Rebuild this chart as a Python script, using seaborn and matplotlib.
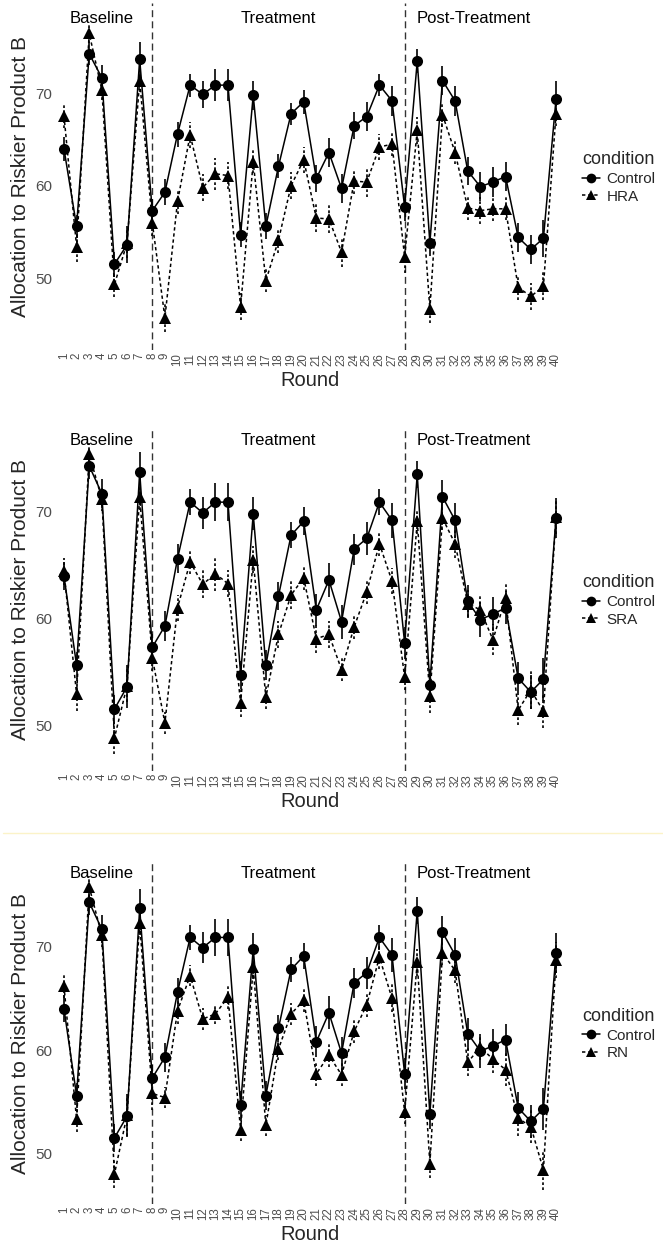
import numpy as np
import pandas as pd
import matplotlib
matplotlib.use("Agg")
import matplotlib.pyplot as plt
from matplotlib.lines import Line2D
import seaborn as sns

# values (means and standard errors per round)
rounds = list(range(1, 41))

control_mean = [64.0, 55.6, 74.3, 71.7, 51.5, 53.6, 73.7, 57.3, 59.3, 65.6,
                70.9, 69.9, 70.9, 70.9, 54.7, 69.8, 55.6, 62.1, 67.8, 69.1,
                60.8, 63.6, 59.7, 66.5, 67.5, 70.9, 69.2, 57.7, 73.5, 53.8,
                71.4, 69.2, 61.6, 59.9, 60.4, 61.0, 54.4, 53.1, 54.3, 69.4]
control_se = [1.3, 1.25, 1.25, 1.35, 1.35, 2.0, 1.9, 1.25, 1.4, 1.35,
              1.25, 1.5, 1.75, 1.75, 1.35, 1.55, 1.4, 1.3, 1.2, 1.3,
              1.5, 1.6, 1.6, 1.45, 1.55, 1.2, 1.65, 1.5, 1.3, 1.45,
              1.6, 1.65, 1.55, 1.6, 1.6, 1.55, 1.55, 1.6, 2.0, 1.9]

hra_mean = [67.6, 53.4, 76.5, 70.4, 49.3, 53.8, 71.4, 56.0, 45.7, 58.3,
            65.5, 59.8, 61.3, 61.1, 46.9, 62.6, 49.7, 54.1, 60.0, 62.8,
            56.5, 56.4, 52.8, 60.5, 60.4, 64.2, 64.5, 52.3, 66.0, 46.6,
            67.7, 63.6, 57.6, 57.3, 57.5, 57.5, 49.0, 48.0, 49.1, 67.8]
hra_se = [1.3, 1.7, 1.0, 1.1, 1.35, 1.6, 1.2, 1.4, 1.6, 1.35,
          1.45, 1.45, 1.75, 1.45, 1.45, 1.25, 1.25, 1.35, 1.45, 1.45,
          1.5, 1.5, 1.6, 1.35, 1.6, 1.45, 1.25, 1.8, 1.45, 1.45,
          1.35, 1.25, 1.35, 1.45, 1.35, 1.25, 1.35, 1.5, 1.5, 1.35]

sra_mean = [64.4, 52.9, 75.4, 71.2, 48.8, 53.7, 71.4, 56.3, 50.2, 61.0,
            65.3, 63.2, 64.2, 63.25, 52.1, 65.5, 52.6, 58.5, 62.2, 63.8,
            58.1, 58.5, 55.2, 59.2, 62.5, 67.0, 63.5, 54.5, 69.1, 52.7,
            69.4, 67.0, 61.4, 60.8, 58.0, 61.9, 51.4, 53.3, 51.3, 69.5]
sra_se = [1.25, 1.55, 1.0, 1.1, 1.55, 1.55, 1.2, 1.2, 1.0, 1.2,
          1.1, 1.3, 1.6, 1.25, 1.3, 1.25, 1.1, 1.25, 1.3, 1.15,
          1.3, 1.3, 1.1, 1.1, 1.1, 1.15, 1.25, 1.25, 1.2, 1.6,
          1.1, 1.3, 1.25, 1.3, 1.45, 1.3, 1.4, 1.8, 1.6, 1.55]

rn_mean = [66.2, 53.3, 75.8, 71.1, 48.0, 53.7, 72.3, 55.8, 55.4, 63.8,
           67.2, 63.0, 63.5, 65.1, 52.3, 68.0, 52.7, 60.1, 63.5, 64.8,
           57.7, 59.5, 57.6, 61.8, 64.4, 69.0, 65.0, 54.0, 68.5, 49.0,
           69.4, 67.7, 58.8, 60.3, 59.1, 58.1, 53.4, 52.6, 48.4, 68.7]
rn_se = [1.2, 1.2, 1.0, 1.1, 1.35, 2.0, 1.2, 1.6, 1.0, 1.3,
         1.0, 1.1, 1.0, 1.1, 1.1, 1.1, 1.05, 1.1, 1.1, 1.1,
         1.2, 1.1, 1.1, 1.1, 1.2, 1.2, 1.35, 1.2, 1.3, 1.35,
         1.2, 1.2, 1.35, 1.3, 1.3, 1.6, 1.75, 1.6, 1.9, 1.75]

treatments = ["HRA", "SRA", "RN"]
treat_means = [hra_mean, sra_mean, rn_mean]
treat_ses = [hra_se, sra_se, rn_se]

phase_names = ["Baseline", "Treatment", "Post-Treatment"]
phase_x = [4, 18, 33.5]
phase_breaks = [8, 28]

sns.set_theme(style="white")
plt.rcParams["font.family"] = ["Liberation Sans", "DejaVu Sans"]

W, H = 663, 1245
fig = plt.figure(figsize=(W / 100, H / 100), dpi=100)

# panel boxes in pixels: (top, bottom)
boxes = [(3, 350), (428, 771), (862, 1204)]
ylims = [(42.2, 79.8), (45.7, 77.85), (45.1, 78.2)]
text_y = [78.1, 76.7, 77.1]
x_left, x_right = 56.4, 563.6
grey = "#4d4d4d"

for i, name in enumerate(treatments):
    top, bot = boxes[i]
    ax = fig.add_axes([x_left / W, 1 - bot / H, (x_right - x_left) / W, (bot - top) / H])

    df = pd.concat([
        pd.DataFrame({"Round": rounds, "value": control_mean, "se": control_se, "condition": "Control"}),
        pd.DataFrame({"Round": rounds, "value": treat_means[i], "se": treat_ses[i], "condition": name}),
    ], ignore_index=True)

    # error bars
    for cond, ls in [("Control", "-"), (name, (0, (1.6, 1.4)))]:
        d = df[df["condition"] == cond]
        ax.vlines(d["Round"], d["value"] - d["se"], d["value"] + d["se"],
                  colors="black", linestyles=ls, lw=1.2, zorder=2)

    sns.lineplot(data=df, x="Round", y="value", hue="condition", style="condition",
                 palette={"Control": "black", name: "black"},
                 markers={"Control": "o", name: "^"},
                 dashes={"Control": "", name: (2.2, 1.8)},
                 markersize=8, markeredgewidth=0, linewidth=1.1,
                 legend=False, ax=ax, zorder=3)

    for b in phase_breaks:
        ax.axvline(b, color="#333333", ls=(0, (5, 3)), lw=1.0, zorder=1)
    for px, pn in zip(phase_x, phase_names):
        ax.text(px, text_y[i], pn, ha="center", va="center", fontsize=12, color="black")

    ax.set_xlim(0.4, 40.6)
    ax.set_ylim(*ylims[i])
    ax.set_xticks(rounds)
    ax.set_xticklabels([str(r) for r in rounds], rotation=90, fontsize=8.3, color=grey)
    ax.set_yticks([50, 60, 70])
    ax.set_yticklabels(["50", "60", "70"], fontsize=11, color=grey)
    ax.tick_params(axis="both", length=0)
    ax.tick_params(axis="x", pad=2)
    ax.tick_params(axis="y", pad=3)
    ax.set_xlabel("Round", fontsize=14.5, labelpad=4)
    ax.set_ylabel("Allocation to Riskier Product B", fontsize=15, labelpad=4)
    for s in ax.spines.values():
        s.set_visible(False)
    ax.grid(False)

    handles = [
        Line2D([], [], color="black", marker="o", ls="-", lw=1.1, ms=7, markeredgewidth=0),
        Line2D([], [], color="black", marker="^", ls=(0, (2.2, 1.8)), lw=1.1, ms=7, markeredgewidth=0),
    ]
    center_y = 1 - ((top + bot) / 2 + 1) / H
    leg = fig.legend(handles, ["Control", name], title="condition",
                     loc="center left", bbox_to_anchor=(582 / W, center_y),
                     frameon=False, fontsize=11, title_fontsize=13,
                     handlelength=1.2, handletextpad=0.4, labelspacing=0.25,
                     borderpad=0, borderaxespad=0)
    leg._legend_box.align = "left"

# faint separator line between second and third chart
fig.add_artist(Line2D([3 / W, 1], [1 - 833 / H, 1 - 833 / H], color="#fbf3c8", lw=1))

fig.savefig("out.png", dpi=100)
